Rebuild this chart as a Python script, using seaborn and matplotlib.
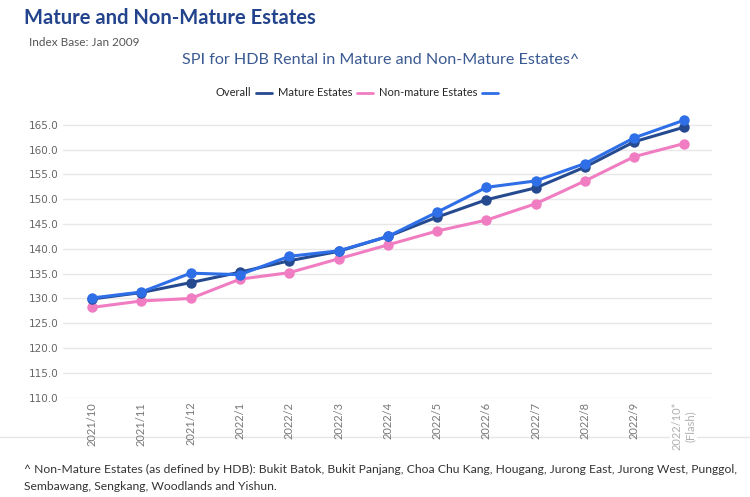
import matplotlib.pyplot as plt
import seaborn as sns
import pandas as pd
from matplotlib.lines import Line2D

# data
months = ['2021/10', '2021/11', '2021/12', '2022/1', '2022/2', '2022/3', '2022/4',
          '2022/5', '2022/6', '2022/7', '2022/8', '2022/9', '2022/10*\n(Flash)']
overall = [130.1, 131.3, 135.1, 134.8, 138.5, 139.6, 142.5,
           147.4, 152.4, 153.7, 157.2, 162.4, 165.9]
mature = [129.9, 131.2, 133.2, 135.3, 137.6, 139.5, 142.5,
          146.4, 149.9, 152.3, 156.5, 161.6, 164.5]
non_mature = [128.2, 129.5, 130.0, 133.9, 135.2, 138.0, 140.8,
              143.6, 145.8, 149.1, 153.7, 158.6, 161.2]
y_ticks = [110, 115, 120, 125, 130, 135, 140, 145, 150, 155, 160, 165]

C_BLUE = '#2e6ee6'
C_NAVY = '#264a90'
C_PINK = '#f07dc1'

sns.set_style('white')
plt.rcParams['font.family'] = ['Lato', 'DejaVu Sans']

df = pd.DataFrame({'x': range(len(months)), 'Overall': overall,
                   'Mature': mature, 'NonMature': non_mature})

fig = plt.figure(figsize=(7.5, 4.97), dpi=100)
ax = fig.add_axes([0.084, 0.1998, 0.865, 0.569])

for col, c in [('NonMature', C_PINK), ('Mature', C_NAVY), ('Overall', C_BLUE)]:
    sns.lineplot(data=df, x='x', y=col, ax=ax, color=c, linewidth=2.2,
                 marker='o', markersize=7.5, markeredgewidth=0, legend=False)

ax.set_xlim(-0.59, 12.57)
ax.set_ylim(110, 167)
ax.set_yticks(y_ticks)
ax.set_yticklabels([f'{v:.1f}' for v in y_ticks], family='DejaVu Sans',
                   fontsize=7.5, color='#666666')
ax.set_xticks(range(len(months)))
ax.set_xticklabels(months, rotation=90, fontsize=8, color='#777777', va='top',
                   ha='center')
last = ax.get_xticklabels()[-1]
last.set_color('#b0b0b0')
last.set_multialignment('center')
last.set_bbox(dict(facecolor='white', edgecolor='none', pad=1))
ax.tick_params(axis='both', length=0, pad=3)
ax.grid(axis='y', color='#e8e8e8', linewidth=1)
for s in ax.spines.values():
    s.set_visible(False)
ax.set_xlabel('')
ax.set_ylabel('')

# separator line under the axis labels
fig.add_artist(Line2D([0, 1], [1 - 437 / 497] * 2, color='#e6e6e6',
                      linewidth=1, zorder=0))

fig.text(24 / 750, 1 - 18 / 497, 'Mature and Non-Mature Estates', fontsize=14.5,
         fontweight='bold', color='#23448c', va='center')
fig.text(29 / 750, 1 - 43 / 497, 'Index Base: Jan 2009', fontsize=8.5,
         color='#555555', va='center')
fig.text(381 / 750, 1 - 60 / 497, 'SPI for HDB Rental in Mature and Non-Mature Estates^',
         fontsize=11.6, color='#3b5a92', ha='center', va='center')

handles = [Line2D([], [], color=C_NAVY, linewidth=2),
           Line2D([], [], color=C_PINK, linewidth=2),
           Line2D([], [], color=C_BLUE, linewidth=2)]
fig.legend(handles, ['Overall', 'Mature Estates', 'Non-mature Estates'],
           loc='center', bbox_to_anchor=(357 / 750, 1 - 93 / 497), ncol=3,
           frameon=False, markerfirst=False, fontsize=8, handlelength=1.5,
           handletextpad=0.4, columnspacing=0.5)

fig.text(24 / 750, 1 - 469 / 497,
         '^ Non-Mature Estates (as defined by HDB): Bukit Batok, Bukit Panjang, Choa Chu Kang, '
         'Hougang, Jurong East, Jurong West, Punggol,', fontsize=8.75, color='#333333',
         va='center')
fig.text(24 / 750, 1 - 486 / 497, 'Sembawang, Sengkang, Woodlands and Yishun.',
         fontsize=8.75, color='#333333', va='center')

fig.savefig('out.png', dpi=100)
